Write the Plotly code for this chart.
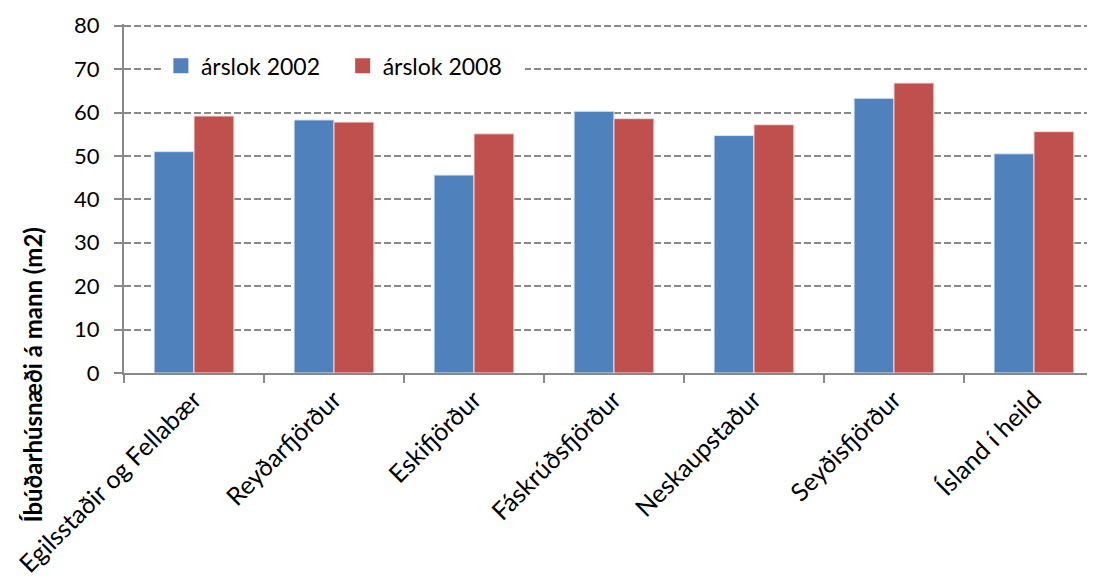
import plotly.graph_objects as go

categories = ["Egilsstaðir og Fellabær", "Reyðarfjörður", "Eskifjörður", "Fáskrúðsfjörður",
              "Neskaupstaður", "Seyðisfjörður", "Ísland í heild"]
y2002 = [51.0, 58.3, 45.6, 60.3, 54.7, 63.3, 50.5]
y2008 = [59.2, 57.8, 55.1, 58.6, 57.2, 66.8, 55.6]
series_names = ["árslok 2002", "árslok 2008"]
colors = ["#4F81BD", "#C0504D"]
edge_colors = ["#DCE6F2", "#F2DCDB"]

fig = go.Figure()
for name, vals, col, edge in zip(series_names, [y2002, y2008], colors, edge_colors):
    fig.add_trace(go.Bar(x=categories, y=vals, name=name, showlegend=False,
                         marker=dict(color=col, line=dict(color=edge, width=1))))
# legend entries with bigger square swatches
for name, col in zip(series_names, colors):
    fig.add_trace(go.Scatter(x=[None], y=[None], mode="markers", name=name + "\u00a0\u00a0\u00a0",
                             marker=dict(symbol="square", size=15, color=col)))

# page body has an 8px default margin, so the figure is offset by 8px
fig.update_layout(
    width=1087, height=576,
    margin=dict(l=116, r=0, t=16, b=211),
    paper_bgcolor="white", plot_bgcolor="white",
    font=dict(family="Lato", size=22, color="black"),
    barmode="group", bargap=0.43, bargroupgap=0,
    legend=dict(orientation="h", x=0.038, y=0.88, xanchor="left", yanchor="middle",
                bgcolor="white", font=dict(size=23), itemwidth=30),
    showlegend=True,
)
fig.update_xaxes(range=[-0.5, 6.436], tickangle=-45, tickson="boundaries",
                 ticks="outside", ticklen=8, tickcolor="#898989", tickwidth=2,
                 showline=True, linecolor="#898989", linewidth=2,
                 tickfont=dict(size=25), automargin=False)
fig.update_yaxes(range=[0, 80.4], tickvals=[0, 10, 20, 30, 40, 50, 60, 70, 80],
                 ticks="outside", ticklen=8,
                 tickcolor="#898989", tickwidth=2, ticklabelstandoff=10,
                 showline=True, linecolor="#898989", linewidth=2,
                 showgrid=True, gridcolor="#898989", gridwidth=2, griddash="7px,3px",
                 zeroline=False, tickfont=dict(size=22), automargin=False)
fig.add_annotation(text="<b>Íbúðarhúsnæði á mann (m2)</b>", textangle=-90,
                   xref="paper", yref="paper", x=-0.094, y=-0.005,
                   xanchor="center", yanchor="middle", showarrow=False,
                   font=dict(size=24))

fig.write_html("out.html")
